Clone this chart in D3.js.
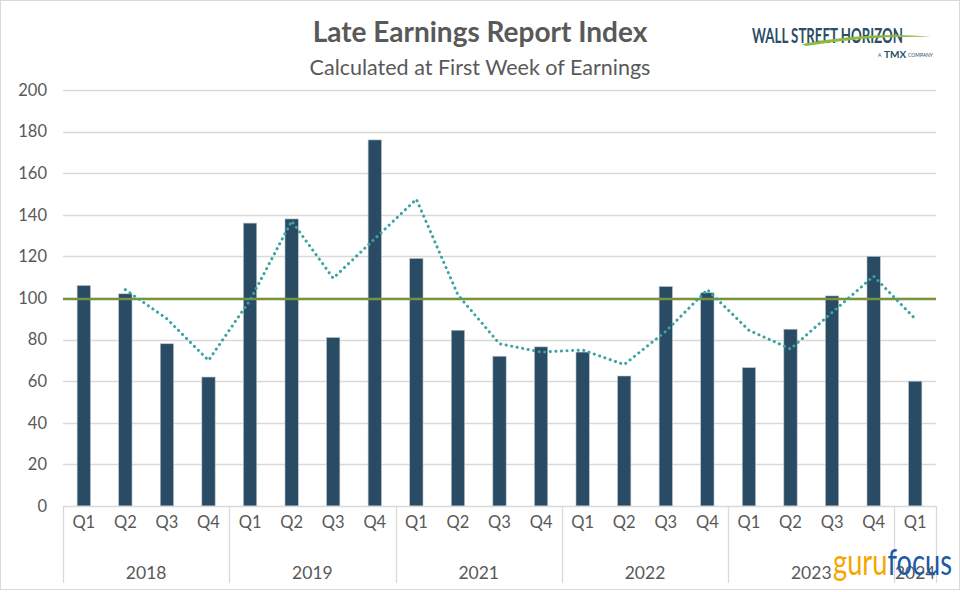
<!DOCTYPE html>
<html>
<head>
<meta charset="utf-8">
<script src="https://cdn.jsdelivr.net/npm/d3@7"></script>
<style>
  body { margin: 0; background: #fff; }
  text { font-family: Lato, "Liberation Sans", sans-serif; }
</style>
</head>
<body>
<svg id="chart" width="960" height="592"></svg>
<script>
// data
var years = ['2018', '2019', '2021', '2022', '2023', '2024'];
var quartersPerYear = [4, 4, 4, 4, 4, 1];
var quarterNames = ['Q1', 'Q2', 'Q3', 'Q4'];
var lateIndex = [106, 102, 78, 62, 136, 138, 81, 176, 119, 84.5, 72, 76.5, 74, 62.5, 105.5, 102.5, 66.5, 85, 101, 120, 60];
// 2-period moving average (dotted), first quarter has no point
var movingAvg = [null, 104, 90, 70, 99, 137, 109.5, 128.5, 147.5, 101.5, 78, 74, 75, 68, 84, 104, 84.5, 75.5, 93, 110.5, 90];
var baseline = 100;
var yTicks = [0, 20, 40, 60, 80, 100, 120, 140, 160, 180, 200];

var categories = [];
years.forEach(function (y, i) {
    for (var q = 0; q < quartersPerYear[i]; q++) {
        categories.push({ key: y + quarterNames[q], year: y, quarter: quarterNames[q] });
    }
});
categories.forEach(function (c, i) { c.value = lateIndex[i]; c.avg = movingAvg[i]; });

var svg = d3.select('#chart');
var plotLeft = 63, plotRight = 936, plotTop = 90, plotBottom = 506;

var x = d3.scaleBand()
    .domain(categories.map(function (d) { return d.key; }))
    .range([plotLeft, plotRight])
    .padding(0);
var y = d3.scaleLinear().domain([0, 200]).range([plotBottom, plotTop]);

// outer border
svg.append('rect')
    .attr('x', 0.5).attr('y', 0.5)
    .attr('width', 959).attr('height', 589)
    .attr('fill', '#fff')
    .attr('stroke', '#d9d9d9');

// title
svg.append('text')
    .attr('x', 480).attr('y', 42)
    .attr('text-anchor', 'middle')
    .attr('font-size', 28).attr('font-weight', 'bold')
    .attr('fill', '#595959')
    .text('Late Earnings Report Index');
svg.append('text')
    .attr('x', 480).attr('y', 75)
    .attr('text-anchor', 'middle')
    .attr('font-size', 21.5)
    .attr('fill', '#595959')
    .text('Calculated at First Week of Earnings');

// gridlines + y labels
var yAxis = svg.append('g');
yAxis.selectAll('line')
    .data(yTicks.filter(function (d) { return d > 0; }))
    .enter().append('line')
    .attr('x1', plotLeft).attr('x2', plotRight)
    .attr('y1', function (d) { return Math.round(y(d)) + 0.5; })
    .attr('y2', function (d) { return Math.round(y(d)) + 0.5; })
    .attr('stroke', '#d9d9d9').attr('stroke-width', 1.3);
yAxis.selectAll('text')
    .data(yTicks)
    .enter().append('text')
    .attr('x', 47)
    .attr('y', function (d) { return y(d); })
    .attr('dy', '0.35em')
    .attr('text-anchor', 'end')
    .attr('font-size', 16.5)
    .attr('fill', '#595959')
    .text(function (d) { return d; });

// bars
var barW = x.bandwidth() * 0.32;
svg.append('g').selectAll('rect')
    .data(categories)
    .enter().append('rect')
    .attr('x', function (d) { return x(d.key) + (x.bandwidth() - barW) / 2; })
    .attr('y', function (d) { return y(d.value); })
    .attr('width', barW)
    .attr('height', function (d) { return y(0) - y(d.value); })
    .attr('fill', '#294b63')
    .attr('stroke', '#b8c2cc')
    .attr('stroke-width', 0.6);

// baseline at 100
svg.append('line')
    .attr('x1', plotLeft).attr('x2', plotRight)
    .attr('y1', y(baseline) + 1).attr('y2', y(baseline) + 1)
    .attr('stroke', '#77933c').attr('stroke-width', 2.5);

// dotted moving average
var avgLine = d3.line()
    .defined(function (d) { return d.avg != null; })
    .x(function (d) { return x(d.key) + x.bandwidth() / 2; })
    .y(function (d) { return y(d.avg); });
svg.append('path')
    .datum(categories)
    .attr('d', avgLine)
    .attr('fill', 'none')
    .attr('stroke', '#3ba3a3')
    .attr('stroke-width', 3)
    .attr('stroke-linecap', 'round')
    .attr('stroke-dasharray', '0.1 5.5');

// x axis line
svg.append('line')
    .attr('x1', plotLeft).attr('x2', plotRight)
    .attr('y1', plotBottom + 0.5).attr('y2', plotBottom + 0.5)
    .attr('stroke', '#d9d9d9').attr('stroke-width', 1.3);

// quarter labels
svg.append('g').selectAll('text')
    .data(categories)
    .enter().append('text')
    .attr('x', function (d) { return x(d.key) + x.bandwidth() / 2; })
    .attr('y', 528)
    .attr('text-anchor', 'middle')
    .attr('font-size', 16.5)
    .attr('fill', '#595959')
    .text(function (d) { return d.quarter; });

// year groups
var groups = [];
var idx = 0;
years.forEach(function (yr, i) {
    var first = categories[idx].key;
    var last = categories[idx + quartersPerYear[i] - 1].key;
    groups.push({ year: yr, x0: x(first), x1: x(last) + x.bandwidth() });
    idx += quartersPerYear[i];
});
var g = svg.append('g');
g.selectAll('line')
    .data([plotLeft].concat(groups.map(function (d) { return d.x1; })))
    .enter().append('line')
    .attr('x1', function (d) { return Math.round(d) + 0.5; })
    .attr('x2', function (d) { return Math.round(d) + 0.5; })
    .attr('y1', plotBottom).attr('y2', 583)
    .attr('stroke', '#d9d9d9').attr('stroke-width', 1.3);
g.selectAll('text')
    .data(groups)
    .enter().append('text')
    .attr('x', function (d) { return (d.x0 + d.x1) / 2; })
    .attr('y', 579)
    .attr('text-anchor', 'middle')
    .attr('font-size', 17.5)
    .attr('fill', '#595959')
    .text(function (d) { return d.year; });

// Wall Street Horizon logo
var logo = svg.append('g').attr('transform', 'translate(752,43)');
logo.append('text')
    .attr('x', 0).attr('y', 0)
    .attr('font-family', '"Liberation Sans Narrow", "Liberation Sans", sans-serif')
    .attr('font-size', 21).attr('font-weight', 'bold')
    .attr('fill', '#2b4d66')
    .attr('textLength', 151)
    .attr('lengthAdjust', 'spacingAndGlyphs')
    .text('WALL STREET HORIZON');
logo.append('path')
    .attr('d', 'M50,1 Q120,-12 180,-6 Q120,-8 54,3 Z')
    .attr('fill', '#8cba3c');
logo.append('text')
    .attr('x', 126).attr('y', 14)
    .attr('font-size', 5)
    .attr('fill', '#2b4d66')
    .text('A');
logo.append('text')
    .attr('x', 132).attr('y', 15)
    .attr('font-size', 10).attr('font-weight', 'bold')
    .attr('fill', '#2b4d66')
    .text('TMX');
logo.append('text')
    .attr('x', 156).attr('y', 14)
    .attr('font-size', 5)
    .attr('fill', '#2b4d66')
    .text('COMPANY');

// gurufocus watermark
var wm = svg.append('text')
    .attr('x', 833).attr('y', 575)
    .attr('font-family', '"Liberation Sans Narrow", "Liberation Sans", sans-serif')
    .attr('font-size', 36)
    .attr('textLength', 119)
    .attr('lengthAdjust', 'spacingAndGlyphs');
wm.append('tspan').attr('fill', '#f5a700').text('guru');
wm.append('tspan').attr('fill', '#1c5aa6').text('focus');
</script>
</body>
</html>
